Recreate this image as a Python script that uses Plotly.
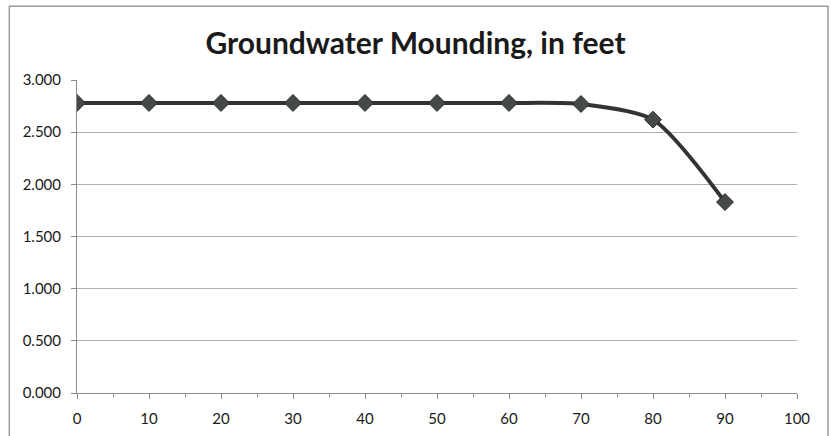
import plotly.graph_objects as go

# Distance values and corresponding mounding heights (feet)
distance = [0, 10, 20, 30, 40, 50, 60, 70, 80, 90]
mounding = [2.78, 2.78, 2.78, 2.78, 2.78, 2.78, 2.78, 2.77, 2.62, 1.83]

y_ticks = [0, 0.5, 1.0, 1.5, 2.0, 2.5, 3.0]
x_ticks = [0, 10, 20, 30, 40, 50, 60, 70, 80, 90, 100]

fig = go.Figure()
fig.add_trace(go.Scatter(
    x=distance, y=mounding,
    mode="lines+markers",
    line=dict(color="#333333", width=4, shape="spline", smoothing=0.7),
    marker=dict(symbol="diamond", size=13, color="#454a48",
                line=dict(color="#2a2a2a", width=1)),
    showlegend=False,
))

fig.update_layout(
    width=831, height=436,
    margin=dict(l=77, r=34, t=80, b=43),
    paper_bgcolor="white", plot_bgcolor="white",
    font=dict(family="Lato, Open Sans, sans-serif", color="#1a1a1a"),
    title=dict(text="<b>Groundwater Mounding, in feet</b>",
               x=0.5, xanchor="center", y=0.9, yanchor="middle",
               font=dict(size=30, color="#1a1a1a", family="Lato, Open Sans, sans-serif")),
    xaxis=dict(range=[0, 100], tickvals=x_ticks, ticktext=[str(v) for v in x_ticks],
               showgrid=False, zeroline=False, automargin=False,
               showline=True, linecolor="#8a8a8a", linewidth=1,
               ticks="outside", ticklen=5, tickcolor="#8a8a8a",
               ticklabelstandoff=7,
               minor=dict(dtick=5, ticks="outside", ticklen=3, tickcolor="#8a8a8a"),
               tickfont=dict(size=15, color="#1a1a1a")),
    yaxis=dict(range=[0, 3.0], tickvals=y_ticks,
               ticktext=[f"{v:.3f}" for v in y_ticks],
               showgrid=True, gridcolor="#b0b0b0", gridwidth=1,
               zeroline=False, automargin=False,
               showline=True, linecolor="#8a8a8a", linewidth=1,
               ticks="outside", ticklen=5, tickcolor="#8a8a8a",
               ticklabelstandoff=7,
               tickfont=dict(size=15, color="#1a1a1a")),
)

# Outer chart frame
fig.add_shape(type="rect", xref="paper", yref="paper",
              x0=-0.094, x1=1.043, y0=-0.2, y1=1.236,
              line=dict(color="#9a9a9a", width=1.5), layer="below")

fig.write_html("out.html")
